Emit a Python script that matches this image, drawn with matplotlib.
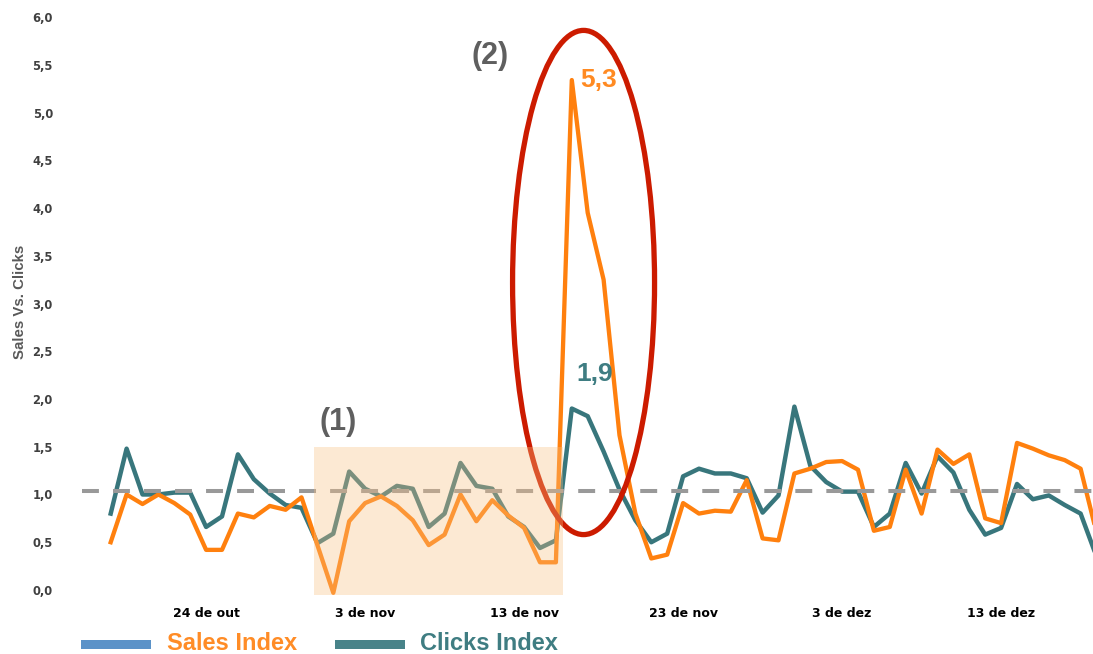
import matplotlib
matplotlib.use("Agg")
import matplotlib.pyplot as plt
import matplotlib.dates as mdates
from matplotlib.patches import Ellipse, Rectangle
import numpy as np
import pandas as pd

# Daily index values
dates = pd.date_range("2023-10-18", periods=63, freq="D")
sales_index = [0.50, 1.00, 0.90, 1.00, 0.91, 0.79, 0.42, 0.42, 0.80, 0.76,
               0.88, 0.84, 0.97, 0.47, -0.03, 0.72, 0.91, 0.98, 0.88, 0.73,
               0.47, 0.58, 1.00, 0.72, 0.94, 0.78, 0.65, 0.29, 0.29, 5.34,
               3.95, 3.25, 1.62, 0.80, 0.33, 0.37, 0.91, 0.80, 0.83, 0.82,
               1.15, 0.54, 0.52, 1.22, 1.27, 1.34, 1.35, 1.26, 0.62, 0.66,
               1.26, 0.80, 1.47, 1.32, 1.42, 0.75, 0.70, 1.54, 1.48, 1.41,
               1.36, 1.27, 0.60]
clicks_index = [0.80, 1.48, 1.00, 1.00, 1.02, 1.02, 0.66, 0.77, 1.42, 1.16,
                1.01, 0.89, 0.86, 0.49, 0.59, 1.24, 1.06, 0.98, 1.09, 1.06,
                0.66, 0.80, 1.33, 1.09, 1.06, 0.77, 0.66, 0.44, 0.52, 1.90,
                1.82, 1.45, 1.05, 0.73, 0.50, 0.59, 1.19, 1.27, 1.22, 1.22,
                1.17, 0.81, 0.99, 1.92, 1.30, 1.13, 1.03, 1.03, 0.66, 0.80,
                1.33, 1.01, 1.40, 1.23, 0.84, 0.58, 0.65, 1.11, 0.95, 0.99,
                0.89, 0.80, 0.35]
reference_level = 1.04
tick_dates = pd.to_datetime(["2023-10-24", "2023-11-03", "2023-11-13",
                             "2023-11-23", "2023-12-03", "2023-12-13"])
month_names = ["jan", "fev", "mar", "abr", "mai", "jun",
               "jul", "ago", "set", "out", "nov", "dez"]
y_ticks = np.arange(0, 6.01, 0.5)

ORANGE = "#FF800E"
TEAL = "#38767C"
GRAY_DASH = "#999999"
RED = "#CC1B00"

W, H = 1093, 654
fig = plt.figure(figsize=(W / 100, H / 100), dpi=100)
ax = fig.add_axes([82 / W, 54 / H, 1011 / W, 595 / H])

x = mdates.date2num(dates)
x0 = x[0]
ax.set_xlim(x0 - 1.805, x0 + 61.78)
ax.set_ylim(-0.105, 6.126)

ax.plot(x, clicks_index, color=TEAL, lw=3.2, zorder=2)
ax.plot(x, sales_index, color=ORANGE, lw=3.1, zorder=3)
ax.axhline(reference_level, color=GRAY_DASH, lw=2.9, dashes=(4.2, 3.5), zorder=4)

# Highlight (2): the spike window
ax.add_patch(Ellipse((x0 + 29.74, 3.22), 8.93, 5.28, fill=False,
                     ec=RED, lw=3.8, zorder=5))
# Highlight (1): shaded period
ax.add_patch(Rectangle((x0 + 12.8, -0.052), 15.65, 1.55, fc="#F9C081",
                       alpha=0.35, ec="none", zorder=6))

# Peak labels
i_s = int(np.argmax(sales_index))
i_c = int(np.argmax(clicks_index[:40]))
fmt = lambda v: f"{v:.1f}".replace(".", ",")
ax.text(x[i_s] + 0.5, sales_index[i_s], fmt(sales_index[i_s]), color="#FF8A22",
        fontsize=19, fontweight="bold", family="Liberation Sans",
        ha="left", va="center", zorder=7)
ax.text(x[i_c] + 0.3, clicks_index[i_c] + 0.36, fmt(clicks_index[i_c]), color="#3F7D82",
        fontsize=19, fontweight="bold", family="Liberation Sans",
        ha="left", va="center", zorder=7)

ax.text(x0 + 14.3, 1.76, "(1)", color="#5F5F5F", fontsize=22, fontweight="bold",
        family="Liberation Sans", ha="center", va="center", zorder=7)
ax.text(x0 + 23.86, 5.59, "(2)", color="#5F5F5F", fontsize=22, fontweight="bold",
        family="Liberation Sans", ha="center", va="center", zorder=7)

# Axes styling
for s in ax.spines.values():
    s.set_visible(False)
ax.set_yticks(y_ticks)
ax.set_yticklabels([fmt(t) for t in y_ticks], fontsize=8.3, fontweight="bold",
                   color="#404040", family="DejaVu Sans")
ax.set_xticks(mdates.date2num(tick_dates))
ax.set_xticklabels([f"{d.day} de {month_names[d.month - 1]}" for d in tick_dates],
                   fontsize=9, fontweight="bold", color="black", family="DejaVu Sans")
ax.tick_params(axis="y", length=0, pad=21)
ax.tick_params(axis="x", length=0, pad=5)

fig.text(20 / W, 1 - 302 / H, "Sales Vs. Clicks", rotation=90, ha="center", va="center",
         fontsize=10.8, fontweight="bold", color="#595959", family="Liberation Sans")

# Legend along the bottom
fig.add_artist(Rectangle((81 / W, 1 - 649 / H), 70 / W, 9 / H, transform=fig.transFigure,
                         fc="#5B92C8", ec="none"))
fig.text(167 / W, 1 - 643 / H, "Sales Index", ha="left", va="center", fontsize=17,
         fontweight="bold", color="#FF8C26", family="Liberation Sans")
fig.add_artist(Rectangle((335 / W, 1 - 649 / H), 70 / W, 9 / H, transform=fig.transFigure,
                         fc="#488389", ec="none"))
fig.text(420 / W, 1 - 643 / H, "Clicks Index", ha="left", va="center", fontsize=17,
         fontweight="bold", color="#3F7D82", family="Liberation Sans")

fig.savefig("out.png", dpi=100)
